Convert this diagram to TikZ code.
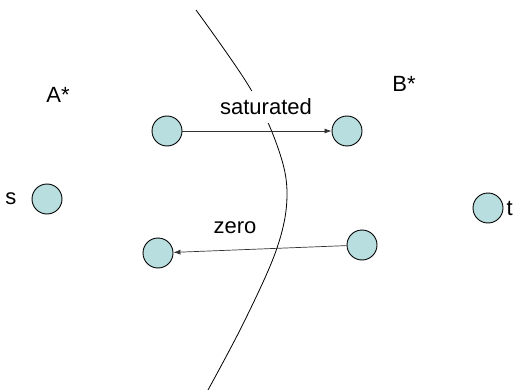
\documentclass[tikz,border=0pt]{standalone}
\usepackage{fontspec}
\setmainfont{Liberation Sans}
\usepackage{tikz}
\usetikzlibrary{arrows.meta,positioning}

\definecolor{vertexfill}{RGB}{184,222,224}

\begin{document}
\begin{tikzpicture}[
  x=1pt,y=-1pt,
  vertex/.style={circle,draw=black,fill=vertexfill,line width=0.9pt,
                 minimum size=30pt,inner sep=0pt},
  flow/.style={-{Latex[length=7pt,width=5pt]},line width=0.7pt,color=black!80},
  lbl/.style={font=\fontsize{22}{26}\selectfont,inner sep=0pt},
  cutline/.style={line width=0.8pt}
]
\useasboundingbox (0,0) rectangle (521,390);

% the s-t cut
\draw[cutline] plot[smooth,tension=0.6] coordinates
  {(196,10) (250,88) (278,148) (287,195) (277,248) (245,320) (208,390)};

% vertices
\node[vertex] (s)  at (47,199)  {};
\node[vertex] (t)  at (488,208) {};
\node[vertex] (a1) at (167,131) {};
\node[vertex] (b1) at (347,131) {};
\node[vertex] (a2) at (158,253) {};
\node[vertex] (b2) at (362,245) {};

\node[lbl,left=15pt of s]  (slabel) {s};
\node[lbl,right=3pt of t]  (tlabel) {t};
\node[lbl] (astar) at (58,95)  {A*};
\node[lbl] (bstar) at (404,84) {B*};

% edges across the cut
\draw[flow] (a1) -- (b1);
\draw[flow] (b2) -- (a2);
\node[lbl,fill=white,inner xsep=4pt,inner ysep=8pt] (satlabel) at (266,107) {saturated};
\node[lbl] (zerolabel) at (235,228) {zero};
\end{tikzpicture}
\end{document}
